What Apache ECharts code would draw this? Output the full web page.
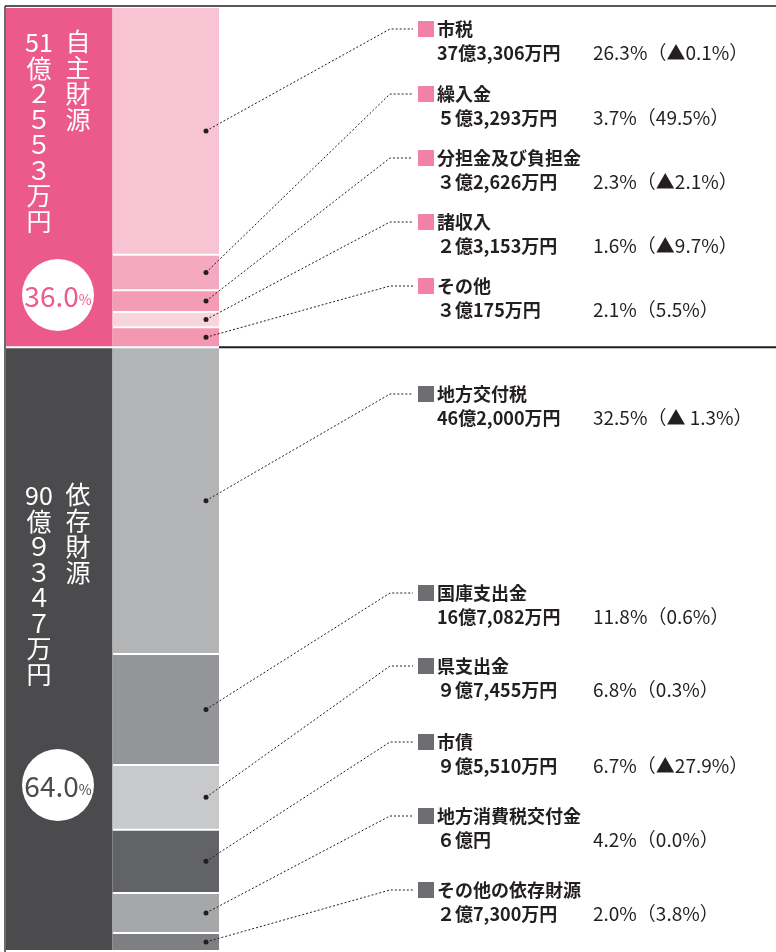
<!DOCTYPE html>
<html>
<head>
<meta charset="utf-8">
<script src="https://cdn.jsdelivr.net/npm/echarts@6/dist/echarts.min.js"></script>
<style>
  html, body { margin: 0; padding: 0; background: #fff; }
  #main { width: 776px; height: 952px; }
</style>
</head>
<body>
<div id="main"></div>
<script>
// 財源の区分（万円）
var groupNames = ['自主財源', '依存財源'];
var groupAmounts = [512553, 909347];
var groupShares = ['36.0', '64.0'];

// 内訳（万円）
var itemNames = ['市税', '繰入金', '分担金及び負担金', '諸収入', 'その他',
  '地方交付税', '国庫支出金', '県支出金', '市債', '地方消費税交付金', 'その他の依存財源'];
var itemGroup = [0, 0, 0, 0, 0, 1, 1, 1, 1, 1, 1];
var itemAmounts = [373306, 53293, 32626, 23153, 30175,
  462000, 167082, 97455, 95510, 60000, 27300];
var itemShares = [26.3, 3.7, 2.3, 1.6, 2.1, 32.5, 11.8, 6.8, 6.7, 4.2, 2.0];
var itemChanges = ['▲0.1%', '49.5%', '▲2.1%', '▲9.7%', '5.5%',
  '▲ 1.3%', '0.6%', '0.3%', '▲27.9%', '0.0%', '3.8%'];

// 見た目
var groupColors = ['#ec5a8c', '#4b4b4d'];
var markerColors = ['#f081a7', '#6d6e71'];
var itemColors = ['#f8c4d4', '#f4a9c0', '#f49bb6', '#f9d4de', '#f397b3',
  '#b3b4b6', '#949598', '#c8c9cb', '#626366', '#a6a7a9', '#7e7f82'];
var labelY = [29, 94, 158, 222, 286, 394, 593, 666, 742, 816, 890];
var groupTextTop = [30, 483];
var circleY = [295, 785];

var FONT = '"Noto Sans CJK JP", "Noto Sans", sans-serif';
var TEXT = '#231f20';
var FW = '０１２３４５６７８９';

function fullWidth(n) {
  return String(n).split('').map(function (d) { return FW[+d]; }).join('');
}
function amountText(v) {
  var oku = Math.floor(v / 10000), man = v % 10000;
  var s = (oku < 10 ? fullWidth(oku) : String(oku)) + '億';
  if (man) s += man.toLocaleString('en-US') + '万';
  return s + '円';
}
function verticalAmount(v) {
  var oku = Math.floor(v / 10000), man = v % 10000;
  return [String(oku), '億'].concat(fullWidth(man).split(''), ['万', '円']).join('\n');
}

var total = groupAmounts.reduce(function (a, b) { return a + b; }, 0);

var groupData = [], acc = 0;
groupAmounts.forEach(function (v, i) { groupData.push([acc, acc + v, i]); acc += v; });
var itemData = [];
acc = 0;
itemAmounts.forEach(function (v, i) { itemData.push([acc, acc + v, i]); acc += v; });

function renderGroup(params, api) {
  var i = api.value(2);
  var p0 = api.coord([0, api.value(0)]);
  var p1 = api.coord([1, api.value(1)]);
  var right = api.coord([2, 0])[0];
  var left = p0[0];
  var children = [
    { type: 'rect', shape: { x: left, y: p0[1] + 1, width: p1[0] - left, height: p1[1] - p0[1] - 2 },
      style: { fill: groupColors[i] } },
    { type: 'text', style: { text: verticalAmount(groupAmounts[i]), x: left + 33, y: groupTextTop[i],
      fill: '#fff', fontSize: 25, fontFamily: FONT, lineHeight: 25.5, align: 'center', verticalAlign: 'top' } },
    { type: 'text', style: { text: groupNames[i].split('').join('\n'), x: left + 72, y: groupTextTop[i] - 2,
      fill: '#fff', fontSize: 25, fontFamily: FONT, lineHeight: 26, align: 'center', verticalAlign: 'top' } },
    { type: 'circle', shape: { cx: left + 52, cy: circleY[i], r: 36 }, style: { fill: '#fff' } },
    { type: 'text', style: { text: '{a|' + groupShares[i] + '}{b|%}', x: left + 52, y: circleY[i] + 1,
      align: 'center', verticalAlign: 'middle',
      rich: {
        a: { fontSize: 28, fontFamily: FONT, fill: groupColors[i] },
        b: { fontSize: 14, fontFamily: FONT, fill: groupColors[i], padding: [8, 0, 0, 0] }
      } } }
  ];
  if (i === 0) {
    children.push({ type: 'line', shape: { x1: right, y1: p1[1], x2: 776, y2: p1[1] },
      style: { stroke: TEXT, lineWidth: 2 } });
  }
  return { type: 'group', children: children };
}

function renderItem(params, api) {
  var i = api.value(2);
  var top = api.coord([1, api.value(0)]);
  var bot = api.coord([2, api.value(1)]);
  var g = itemGroup[i];
  var ly = labelY[i], vy = ly + 24;
  var dot = [bot[0] - 13, (top[1] + bot[1]) / 2];
  return {
    type: 'group',
    children: [
      { type: 'rect', shape: { x: top[0], y: top[1] + 1, width: bot[0] - top[0], height: bot[1] - top[1] - 2 },
        style: { fill: itemColors[i] } },
      { type: 'polyline', shape: { points: [dot, [390, ly], [413, ly]] },
        style: { stroke: TEXT, lineWidth: 1, lineDash: [2, 2], fill: null } },
      { type: 'circle', shape: { cx: dot[0], cy: dot[1], r: 2.5 }, style: { fill: TEXT } },
      { type: 'rect', shape: { x: 418, y: ly - 8, width: 16, height: 16 }, style: { fill: markerColors[g] } },
      { type: 'text', style: { text: itemNames[i], x: 437, y: ly, fill: TEXT, fontSize: 18,
        fontWeight: 'bold', fontFamily: FONT, verticalAlign: 'middle' } },
      { type: 'text', style: { text: amountText(itemAmounts[i]), x: 437, y: vy, fill: TEXT, fontSize: 18,
        fontWeight: 'bold', fontFamily: FONT, verticalAlign: 'middle' } },
      { type: 'text', style: { text: itemShares[i].toFixed(1) + '%（' + itemChanges[i] + '）', x: 593, y: vy,
        fill: TEXT, fontSize: 19, fontFamily: FONT, verticalAlign: 'middle' } }
    ]
  };
}

var chart = echarts.init(document.getElementById('main'));
chart.setOption({
  animation: false,
  backgroundColor: '#fff',
  grid: { left: 6, top: 7, width: 213, height: 944 },
  xAxis: { type: 'value', min: 0, max: 2, show: false },
  yAxis: { type: 'value', min: 0, max: total, inverse: true, show: false },
  graphic: [
    { type: 'line', shape: { x1: 5, y1: 6, x2: 776, y2: 6 }, style: { stroke: TEXT, lineWidth: 1.5 }, z: 10 },
    { type: 'line', shape: { x1: 5, y1: 6, x2: 5, y2: 952 }, style: { stroke: '#3a3a3c', lineWidth: 1.5 }, z: 10 }
  ],
  series: [
    { type: 'custom', data: groupData, renderItem: renderGroup, encode: { x: -1, y: [0, 1] }, silent: true },
    { type: 'custom', data: itemData, renderItem: renderItem, encode: { x: -1, y: [0, 1] }, silent: true }
  ]
});
</script>
</body>
</html>
